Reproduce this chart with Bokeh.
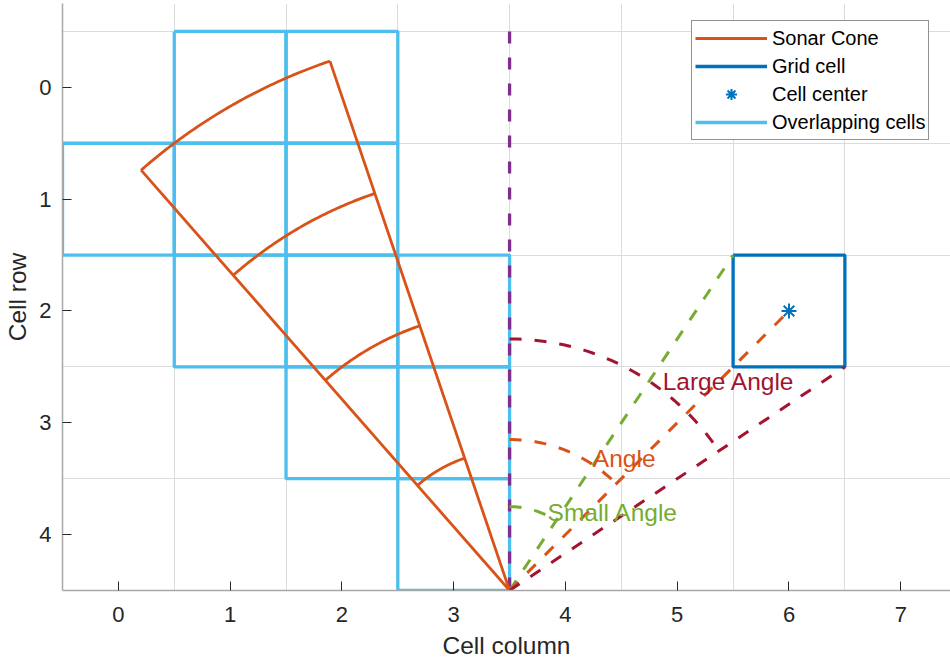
import numpy as np
from bokeh.plotting import figure
from bokeh.models import Range1d, FixedTicker, Legend, LegendItem, ColumnDataSource
from bokeh.core.properties import value
from bokeh.embed import file_html
from bokeh.resources import INLINE

FONT = "Liberation Sans"
TXT = "#262626"

# Sonar pose and beam geometry (angles clockwise from "up", i.e. towards row -inf)
sonar_x, sonar_y = 3.5, 4.5
cone_heading_deg = -30.0
cone_width_deg = 22.5
cone_range = 5.0
cone_arc_radii = [1.25, 2.5, 3.75, 5.0]

# Cells touched by the beam
overlap_cols = [0, 1, 1, 1, 2, 2, 2, 2, 3, 3, 3]
overlap_rows = [1, 0, 1, 2, 0, 1, 2, 3, 2, 3, 4]

# Cell under test
grid_cell_col, grid_cell_row = 6, 2

# Angle construction: rays to the cell, arc radii, annotations
angle_names = ["Small Angle", "Angle", "Large Angle"]
angle_target_x = [5.5, 6.0, 6.5]
angle_target_y = [1.5, 2.0, 2.5]
angle_arc_radii = [0.75, 1.35, 2.25]
angle_colors = ["#77AC30", "#D95319", "#A2142F"]
label_x = [3.84, 4.245, 4.87]
label_y = [3.80, 3.32, 2.63]

x_ticks = [0, 1, 2, 3, 4, 5, 6, 7]
y_ticks = [0, 1, 2, 3, 4]


def polar(r, th_deg):
    th = np.radians(th_deg)
    return sonar_x + r * np.sin(th), sonar_y - r * np.cos(th)


def cell_outline(c, r):
    return ([c - 0.5, c + 0.5, c + 0.5, c - 0.5, c - 0.5],
            [r - 0.5, r - 0.5, r + 0.5, r + 0.5, r - 0.5])


p = figure(width=950, height=665,
           x_range=Range1d(-0.5, 7.445), y_range=Range1d(4.5, -0.75),
           output_backend="svg", toolbar_location=None,
           min_border_left=62, min_border_right=0,
           min_border_top=3, min_border_bottom=75)
p.outline_line_color = None
p.background_fill_color = "white"

# axes
for ax, ticks in ((p.xaxis, x_ticks), (p.yaxis, y_ticks)):
    ax.ticker = FixedTicker(ticks=ticks)
    ax.major_tick_in = 9
    ax.major_tick_out = 0
    ax.minor_tick_line_color = None
    ax.major_tick_line_color = TXT
    ax.axis_line_color = "#a8a8a8"
    ax.axis_line_width = 1.5
    ax.major_label_text_font = FONT
    ax.major_label_text_font_size = "22px"
    ax.major_label_text_color = TXT
    ax.axis_label_text_font = FONT
    ax.axis_label_text_font_size = "24.5px"
    ax.axis_label_text_font_style = "normal"
    ax.axis_label_text_color = TXT
p.xaxis.axis_label = "Cell column"
p.yaxis.axis_label = "Cell row"
p.xaxis.major_label_standoff = 16
p.xaxis.axis_label_standoff = 7
p.yaxis.major_label_standoff = 11
p.yaxis.axis_label_standoff = 5

# grid on cell boundaries
p.xgrid.ticker = FixedTicker(ticks=[t - 0.5 for t in range(0, 9)])
p.ygrid.ticker = FixedTicker(ticks=[t - 0.5 for t in range(0, 6)])
for g in (p.xgrid, p.ygrid):
    g.grid_line_color = "#dcdcdc"
    g.grid_line_width = 1

# overlapping cells
oxs, oys = [], []
for c, r in zip(overlap_cols, overlap_rows):
    xs, ys = cell_outline(c, r)
    oxs.append(xs)
    oys.append(ys)
r_overlap = p.multi_line(oxs, oys, line_color="#4DBEEE", line_width=3.3)

# purple reference heading
p.line([sonar_x, sonar_x], [-0.5, sonar_y], line_color="#7E2F8E",
       line_width=3.3, line_dash="12 14")

# tested cell
gx, gy = cell_outline(grid_cell_col, grid_cell_row)
r_grid = p.line(gx, gy, line_color="#0072BD", line_width=3.3)

# sonar cone
a_left = cone_heading_deg - cone_width_deg / 2
a_right = cone_heading_deg + cone_width_deg / 2
cxs, cys = [], []
for a in (a_left, a_right):
    ex, ey = polar(cone_range, a)
    cxs.append([sonar_x, ex])
    cys.append([sonar_y, ey])
th = np.linspace(a_left, a_right, 80)
for rad in cone_arc_radii:
    ax_, ay_ = polar(rad, th)
    cxs.append(list(ax_))
    cys.append(list(ay_))
r_cone = p.multi_line(cxs, cys, line_color="#D95319", line_width=2.8)

# angle rays and arcs
for tx, ty, rad, col in zip(angle_target_x, angle_target_y, angle_arc_radii, angle_colors):
    p.line([sonar_x, tx], [sonar_y, ty], line_color=col, line_width=3, line_dash="12 13")
    end = np.degrees(np.arctan2(tx - sonar_x, sonar_y - ty))
    ax_, ay_ = polar(rad, np.linspace(0, end, 60))
    p.line(ax_, ay_, line_color=col, line_width=3, line_dash="12 13")

# cell centre
r_center = p.scatter([grid_cell_col], [grid_cell_row], marker="asterisk", size=15,
                     line_color="#0072BD", line_width=2)

# annotations
src = ColumnDataSource(dict(x=label_x, y=label_y, t=angle_names, c=angle_colors))
p.text(x="x", y="y", text="t", text_color="c", source=src,
       text_font=value(FONT), text_font_size=value("24.5px"),
       text_align="left", text_baseline="alphabetic")

legend = Legend(items=[
    LegendItem(label="Sonar Cone", renderers=[r_cone]),
    LegendItem(label="Grid cell", renderers=[r_grid]),
    LegendItem(label="Cell center", renderers=[r_center]),
    LegendItem(label="Overlapping cells", renderers=[r_overlap]),
], location=(629, 450))
legend.label_text_font = FONT
legend.label_text_font_size = "20px"
legend.label_text_color = "#000000"
legend.glyph_width = 72
legend.glyph_height = 28
legend.label_height = 28
legend.spacing = 0
legend.padding = 3
legend.label_standoff = 5
legend.border_line_color = TXT
legend.border_line_width = 1
legend.background_fill_color = "white"
legend.background_fill_alpha = 1.0
legend.margin = 0
p.add_layout(legend)

open("out.html", "w").write(file_html(p, INLINE))
